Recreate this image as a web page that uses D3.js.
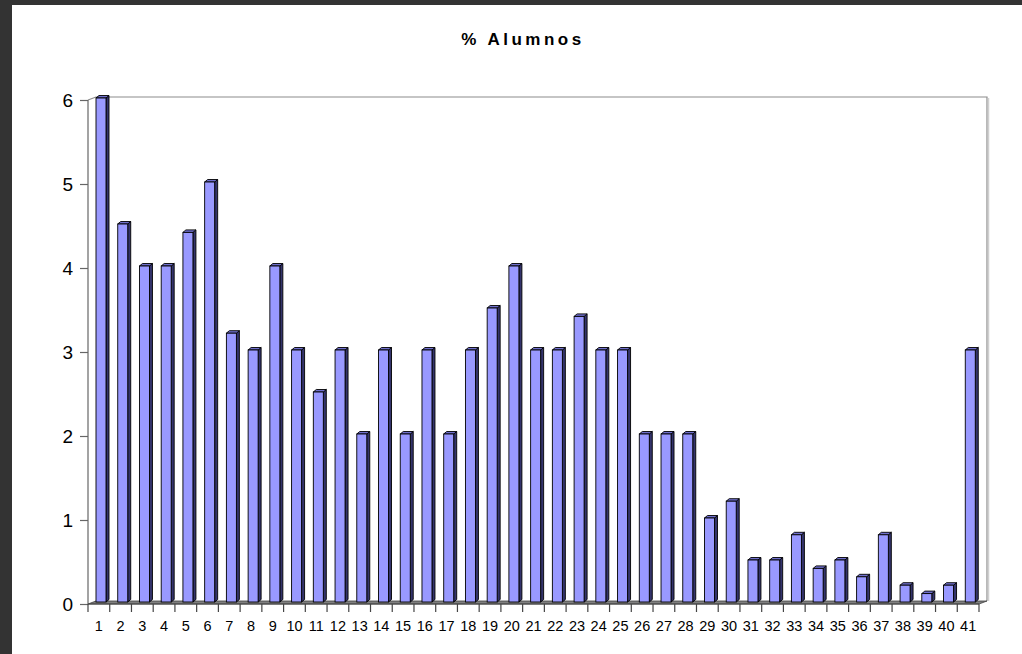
<!DOCTYPE html>
<html><head><meta charset="utf-8">
<script src="https://cdn.jsdelivr.net/npm/d3@7"></script>
<style>
html,body{margin:0;padding:0;background:#333333;}
svg{display:block;}
</style></head>
<body>
<svg id="c" width="1022" height="654"></svg>
<script>
const categories = d3.range(1, 42).map(String);
const values = [6,4.5,4,4,4.4,5,3.2,3,4,3,2.5,3,2,3,2,3,2,3,3.5,4,3,3,3.4,3,3,2,2,2,1,1.2,0.5,0.5,0.8,0.4,0.5,0.3,0.8,0.2,0.1,0.2,3];
const yTicks = [0,1,2,3,4,5,6];
const chartTitle = "% Alumnos";

(function(){
const svg = d3.select("#c");
svg.append("rect").attr("x",12).attr("y",5).attr("width",1010).attr("height",649).attr("fill","#ffffff");

const pL = 88, pR = 979, pT = 100, pB = 604;
const depthX = 8, depthY = -3;
const x = d3.scaleBand().domain(categories).range([pL, pR]).paddingInner(0).paddingOuter(0);
const y = d3.scaleLinear().domain([0, 6]).range([pB, pT]);

// back wall edges
svg.append("path")
  .attr("d", `M${pL},${pT} L${pL+depthX},${pT+depthY} L${pR+depthX},${pT+depthY} L${pR+depthX},${pB+depthY}`)
  .attr("fill","none").attr("stroke","#8c8c8c").attr("stroke-width",1.2);
svg.append("line").attr("x1",pR+depthX+1.5).attr("x2",pR+depthX+1.5)
  .attr("y1",pT+depthY+1).attr("y2",pB+depthY).attr("stroke","#d0d0d0").attr("stroke-width",1.5);

// floor
svg.append("path")
  .attr("d", `M${pL},${pB} L${pR},${pB} L${pR+depthX},${pB+depthY} L${pL+depthX},${pB+depthY} Z`)
  .attr("fill","#808080").attr("stroke","#404040").attr("stroke-width",0.8);

// bars
const bw = 10, bdx = 3, bdy = -2.5, off = 8, lift = -2;
const g = svg.append("g");
categories.forEach((c, i) => {
  const v = values[i];
  const x0 = x(c) + off;
  const yt = y(v) + lift, yb = y(0) + lift;
  g.append("path").attr("d", `M${x0+bw},${yb} L${x0+bw+bdx},${yb+bdy} L${x0+bw+bdx},${yt+bdy} L${x0+bw},${yt} Z`)
    .attr("fill","#34346c").attr("stroke","#000").attr("stroke-width",0.9).attr("stroke-linejoin","round");
  g.append("path").attr("d", `M${x0},${yt} L${x0+bdx},${yt+bdy} L${x0+bw+bdx},${yt+bdy} L${x0+bw},${yt} Z`)
    .attr("fill","#6f6fcc").attr("stroke","#000").attr("stroke-width",0.9).attr("stroke-linejoin","round");
  g.append("rect").attr("x",x0).attr("y",yt).attr("width",bw).attr("height",yb-yt)
    .attr("fill","#9999ff").attr("stroke","#000").attr("stroke-width",0.9);
});

// y axis
const ya = svg.append("g").attr("transform",`translate(${pL},0)`)
  .call(d3.axisLeft(y).tickValues(yTicks).tickSize(8).tickPadding(7).tickFormat(d3.format("d")));
ya.select(".domain").attr("stroke","#666").attr("stroke-width",1.2).attr("d",`M0,${pT}V${pB}`);
ya.selectAll(".tick line").attr("stroke","#666").attr("stroke-width",1.2);
ya.selectAll(".tick text").attr("font-family","Liberation Sans, Arial, sans-serif").attr("font-size",19).attr("fill","#000");

// x axis
svg.append("line").attr("x1",pL).attr("x2",pR).attr("y1",pB).attr("y2",pB).attr("stroke","#444").attr("stroke-width",1.2);
const bounds = categories.map(c => x(c)).concat([x(categories[categories.length-1]) + x.bandwidth()]);
svg.append("g").selectAll("line").data(bounds).join("line")
  .attr("x1",d=>d).attr("x2",d=>d).attr("y1",pB).attr("y2",pB+8)
  .attr("stroke","#444").attr("stroke-width",1.2);
svg.append("g").selectAll("text").data(categories).join("text")
  .attr("x",d=>x(d)+x.bandwidth()/2).attr("y",631)
  .attr("text-anchor","middle")
  .attr("font-family","Liberation Sans, Arial, sans-serif").attr("font-size",14.5).attr("fill","#000")
  .text(d=>d);

// title
svg.append("text").attr("x",523).attr("y",45).attr("text-anchor","middle")
  .attr("font-family","Liberation Sans, Arial, sans-serif").attr("font-size",17).attr("font-weight","bold")
  .attr("letter-spacing","3.5px").attr("fill","#000").text(chartTitle);
})();
</script>
</body></html>
